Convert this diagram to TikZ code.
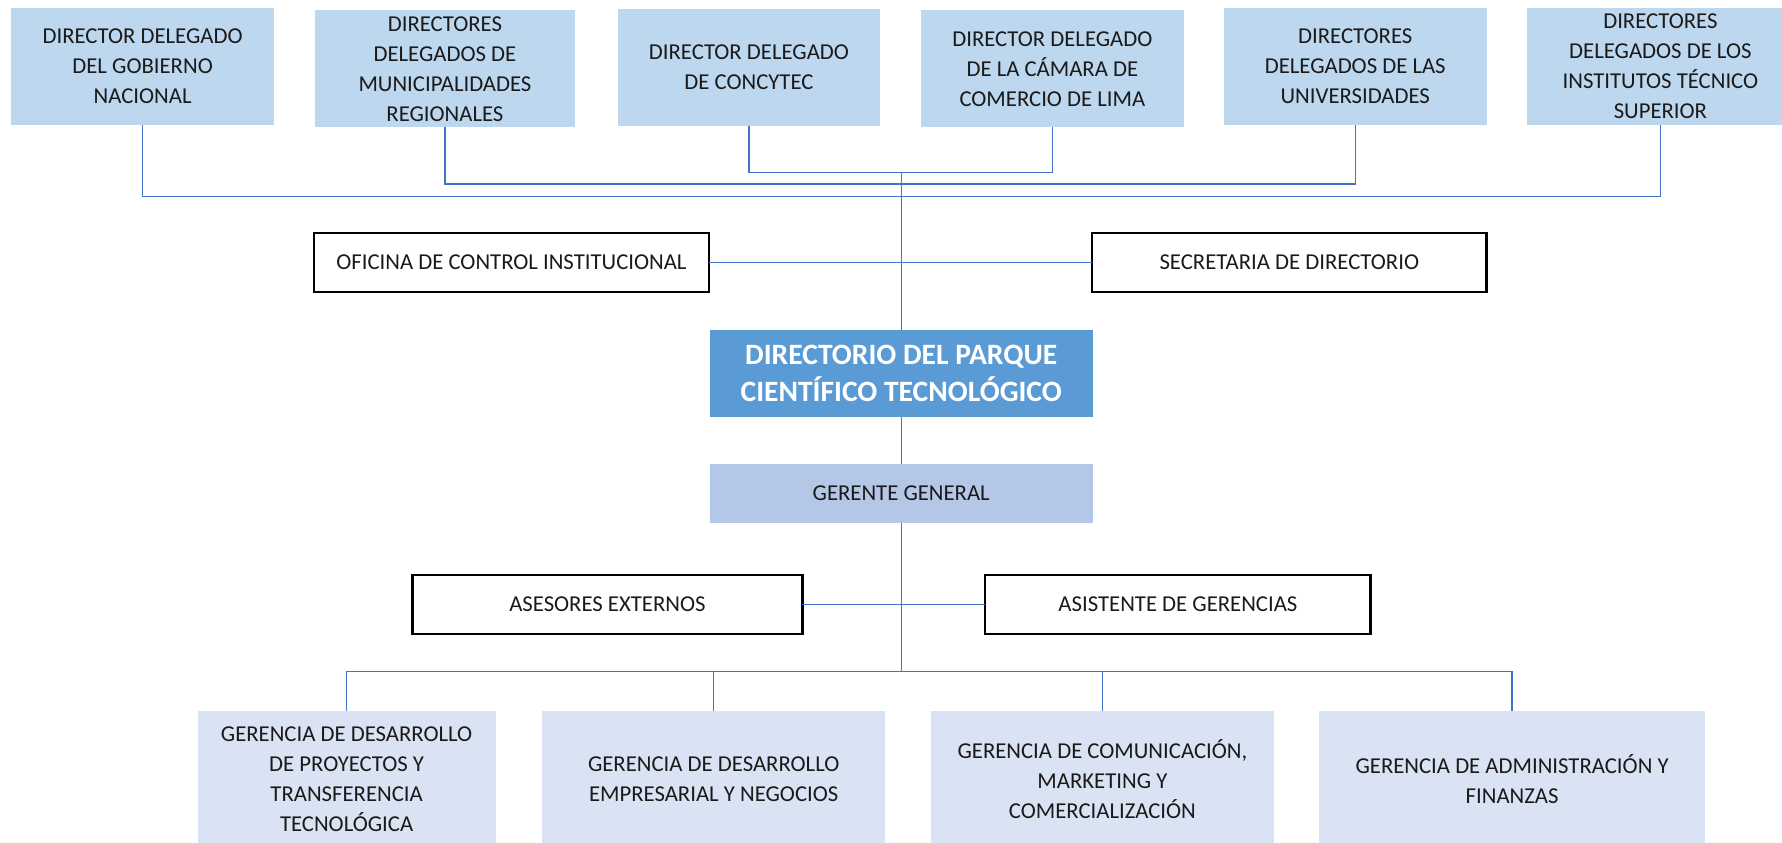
\documentclass[tikz,border=0pt]{standalone}
\usepackage{fontspec}
\setmainfont{Carlito}
\definecolor{topfill}{HTML}{BDD7EE}
\definecolor{dirfill}{HTML}{5B9BD5}
\definecolor{gerfill}{HTML}{B4C7E7}
\definecolor{botfill}{HTML}{DAE3F3}
\definecolor{conncol}{HTML}{4472C4}
\definecolor{txt}{HTML}{1A1A1A}
\begin{document}
\begin{tikzpicture}[x=0.5pt,y=-0.5pt,
  sz/.style 2 args={minimum width=#1*0.5pt, minimum height=#2*0.5pt},
  base/.style={inner sep=0pt, outer sep=0pt, align=center, text=txt,
    font=\fontsize{10}{13.2}\selectfont},
  topbox/.style={base, fill=topfill},
  linebox/.style={base, draw=black, line width=1pt, fill=white},
  dirbox/.style={base, fill=dirfill, text=white, font=\fontsize{13}{16.5}\selectfont\bfseries},
  gerbox/.style={base, fill=gerfill},
  botbox/.style={base, fill=botfill},
  conn/.style={draw=conncol, line width=0.55pt}]
\useasboundingbox (0,0) rectangle (1568,741);
% top row
\node[topbox, sz={231}{103}] (t1) at (125.5,58.5) {DIRECTOR DELEGADO\\DEL GOBIERNO\\NACIONAL};
\node[topbox, sz={229}{103}] (t2) at (391.5,60.5) {DIRECTORES\\DELEGADOS DE\\MUNICIPALIDADES\\REGIONALES};
\node[topbox, sz={230}{103}] (t3) at (659,59.5) {DIRECTOR DELEGADO\\DE CONCYTEC};
\node[topbox, sz={232}{103}] (t4) at (926,60.5) {DIRECTOR DELEGADO\\DE LA CÁMARA DE\\COMERCIO DE LIMA};
\node[topbox, sz={231}{103}] (t5) at (1192.5,58.5) {DIRECTORES\\DELEGADOS DE LAS\\UNIVERSIDADES};
\node[topbox, sz={234}{103}] (t6) at (1461,58.5) {DIRECTORES\\DELEGADOS DE LOS\\INSTITUTOS TÉCNICO\\SUPERIOR};
% middle
\node[linebox, sz={348}{52}] (oci) at (450,231) {OFICINA DE CONTROL INSTITUCIONAL};
\node[linebox, sz={347}{52}] (sec) at (1134.5,231) {SECRETARIA DE DIRECTORIO};
\node[dirbox, sz={337}{77}] (dir) at (793,328.5) {DIRECTORIO DEL PARQUE\\CIENTÍFICO TECNOLÓGICO};
\node[gerbox, sz={337}{52}] (ger) at (793,434) {GERENTE GENERAL};
\node[linebox, sz={343}{52}] (ase) at (534.5,532) {ASESORES EXTERNOS};
\node[linebox, sz={339}{52}] (asi) at (1036.5,532) {ASISTENTE DE GERENCIAS};
% bottom row
\node[botbox, sz={262}{119}] (g1) at (305,685.5) {GERENCIA DE DESARROLLO\\DE PROYECTOS Y\\TRANSFERENCIA\\TECNOLÓGICA};
\node[botbox, sz={302}{119}] (g2) at (628,685.5) {GERENCIA DE DESARROLLO\\EMPRESARIAL Y NEGOCIOS};
\node[botbox, sz={302}{119}] (g3) at (970,685.5) {GERENCIA DE COMUNICACIÓN,\\MARKETING Y\\COMERCIALIZACIÓN};
\node[botbox, sz={339}{119}] (g4) at (1330.5,685.5) {GERENCIA DE ADMINISTRACIÓN Y\\FINANZAS};
% bus coordinates
\coordinate (busA) at (793,173);
\coordinate (busB) at (793,162);
\coordinate (busC) at (793,152);
\coordinate (busD) at (793,591);
% top connectors
\draw[conn] (t1.south) -- (t1.south |- busA) -- (t6.south |- busA) -- (t6.south);
\draw[conn] (t2.south) -- (t2.south |- busB) -- (t5.south |- busB) -- (t5.south);
\draw[conn] (t3.south) -- (t3.south |- busC) -- (t4.south |- busC) -- (t4.south);
\draw[conn] (busC) -- (dir.north);
\draw[conn] (oci.east) -- (sec.west);
\draw[conn] (dir.south) -- (ger.north);
\draw[conn] (ger.south) -- (busD);
\draw[conn] (ase.east) -- (asi.west);
% bottom connectors
\draw[conn] (g1.north) -- (g1.north |- busD) -- (g4.north |- busD) -- (g4.north);
\draw[conn] (g2.north) -- (g2.north |- busD);
\draw[conn] (g3.north) -- (g3.north |- busD);
\end{tikzpicture}
\end{document}
